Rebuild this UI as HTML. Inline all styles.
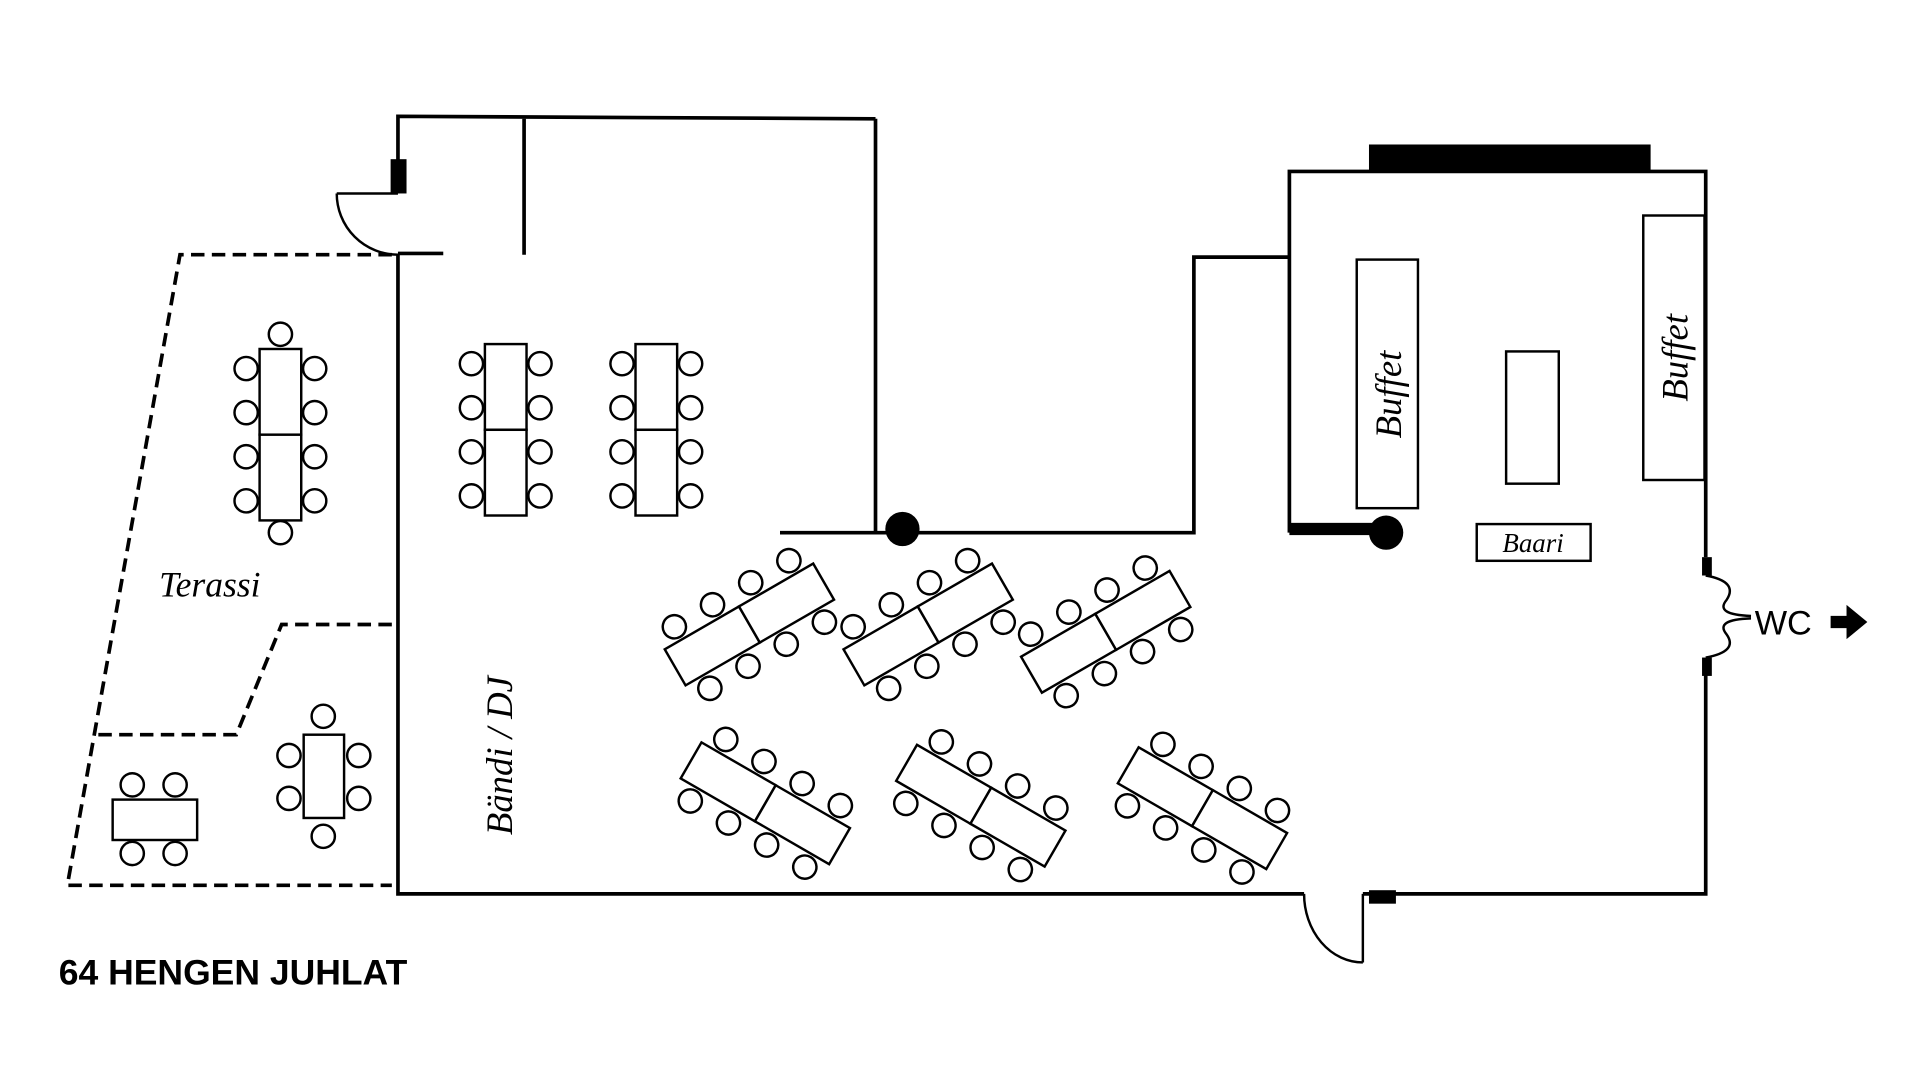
<!DOCTYPE html>
<html><head><meta charset="utf-8"><style>html,body{margin:0;padding:0;background:#fff}svg{display:block}</style></head>
<body>
<svg width="1920" height="1080" viewBox="0 0 1568 882" xmlns="http://www.w3.org/2000/svg">
<defs>
<g id="tv">
<rect x="-17" y="-70" width="34" height="70" fill="#fff" stroke="#000" stroke-width="2"/>
<rect x="-17" y="0" width="34" height="70" fill="#fff" stroke="#000" stroke-width="2"/>
<g fill="#fff" stroke="#000" stroke-width="2">
<circle cx="-28" cy="-54" r="9.5"/><circle cx="-28" cy="-18" r="9.5"/><circle cx="-28" cy="18" r="9.5"/><circle cx="-28" cy="54" r="9.5"/>
<circle cx="28" cy="-54" r="9.5"/><circle cx="28" cy="-18" r="9.5"/><circle cx="28" cy="18" r="9.5"/><circle cx="28" cy="54" r="9.5"/>
</g></g>
<g id="th">
<rect x="-70" y="-17" width="70" height="34" fill="#fff" stroke="#000" stroke-width="2"/>
<rect x="0" y="-17" width="70" height="34" fill="#fff" stroke="#000" stroke-width="2"/>
<g fill="#fff" stroke="#000" stroke-width="2">
<circle cx="-54" cy="-29" r="9.5"/><circle cx="-18" cy="-29" r="9.5"/><circle cx="18" cy="-29" r="9.5"/><circle cx="54" cy="-29" r="9.5"/>
<circle cx="-54" cy="29" r="9.5"/><circle cx="-18" cy="29" r="9.5"/><circle cx="18" cy="29" r="9.5"/><circle cx="54" cy="29" r="9.5"/>
</g></g>
</defs>
<g fill="none" stroke="#000" stroke-width="3">
<polyline points="325,207 325,730 1065,730"/>
<polyline points="1113,730 1393,730 1393,545"/>
<polyline points="1393,455 1393,140 1053,140 1053,435"/>
<polyline points="1053,210 975,210 975,435 637,435"/>
<line x1="715" y1="97" x2="715" y2="435"/>
<polyline points="325,158 325,95 715,97"/>
<line x1="428" y1="97" x2="428" y2="208"/>
<line x1="325" y1="207" x2="362" y2="207"/>
<path d="M275,158 A50,50 0 0 0 325,208" stroke-width="2"/>
<line x1="275" y1="158" x2="325" y2="158" stroke-width="2"/>
<line x1="1113" y1="730" x2="1113" y2="786" stroke-width="2"/>
<path d="M1065,730 A48,56 0 0 0 1113,786" stroke-width="2"/>
<path d="M1393,470 Q1420,475 1410,490 Q1400,502 1430,503 M1393,537 Q1420,532 1410,518 Q1400,506 1430,505" stroke-width="2"/>
</g>
<g fill="#000">
<rect x="319" y="130" width="13" height="28"/>
<rect x="1118" y="727" width="22" height="11"/>
<rect x="1118" y="118" width="230" height="23"/>
<rect x="1053" y="427" width="78" height="10"/>
<circle cx="1132" cy="435" r="14"/>
<circle cx="737" cy="432" r="14"/>
<rect x="1390" y="455" width="8" height="15"/>
<rect x="1390" y="537" width="8" height="15"/>
<polygon points="1495,503 1508,503 1508,494 1525,508 1508,522 1508,513 1495,513"/>
</g>
<g fill="none" stroke="#000" stroke-width="3" stroke-dasharray="11,6">
<polyline points="320,208 147,208 55,723 320,723"/>
<polyline points="320,510 230,510 193,600 78,600"/>
</g>
<g fill="#fff" stroke="#000" stroke-width="2">
<rect x="1108" y="212" width="50" height="203"/>
<rect x="1342" y="176" width="50" height="216"/>
<rect x="1230" y="287" width="43" height="108"/>
<rect x="1206" y="428" width="93" height="30"/>
</g>
<use href="#tv" x="229" y="355"/>
<g fill="#fff" stroke="#000" stroke-width="2"><circle cx="229" cy="273" r="9.5"/><circle cx="229" cy="435" r="9.5"/></g>
<use href="#tv" x="413" y="351"/>
<use href="#tv" x="536" y="351"/>
<g fill="#fff" stroke="#000" stroke-width="2">
<rect x="248" y="600" width="33" height="68"/>
<circle cx="236" cy="617" r="9.5"/><circle cx="236" cy="652" r="9.5"/><circle cx="293" cy="617" r="9.5"/><circle cx="293" cy="652" r="9.5"/>
<circle cx="264" cy="585" r="9.5"/><circle cx="264" cy="683" r="9.5"/>
<rect x="92" y="653" width="69" height="33"/>
<circle cx="108" cy="641" r="9.5"/><circle cx="143" cy="641" r="9.5"/><circle cx="108" cy="697" r="9.5"/><circle cx="143" cy="697" r="9.5"/>
</g>
<use href="#th" transform="translate(612,510) rotate(-30)"/>
<use href="#th" transform="translate(758,510) rotate(-30)"/>
<use href="#th" transform="translate(903,516) rotate(-30)"/>
<use href="#th" transform="translate(625,656) rotate(30)"/>
<use href="#th" transform="translate(801,658) rotate(30)"/>
<use href="#th" transform="translate(982,660) rotate(30)"/>
<g font-family="Liberation Serif, serif" font-style="italic" fill="#000">
<text x="130" y="487" font-size="29">Terassi</text>
<text transform="translate(418,682) rotate(-90)" font-size="30">Bändi / DJ</text>
<text transform="translate(1144,358) rotate(-90)" font-size="30">Buffet</text>
<text transform="translate(1378,328) rotate(-90)" font-size="30">Buffet</text>
<text x="1252" y="451" font-size="22" text-anchor="middle">Baari</text>
</g>
<text x="1433" y="518" font-family="Liberation Sans, sans-serif" font-size="28">WC</text>
<text x="48" y="804" font-family="Liberation Sans, sans-serif" font-weight="bold" font-size="29">64 HENGEN JUHLAT</text>
</svg>
</body></html>
